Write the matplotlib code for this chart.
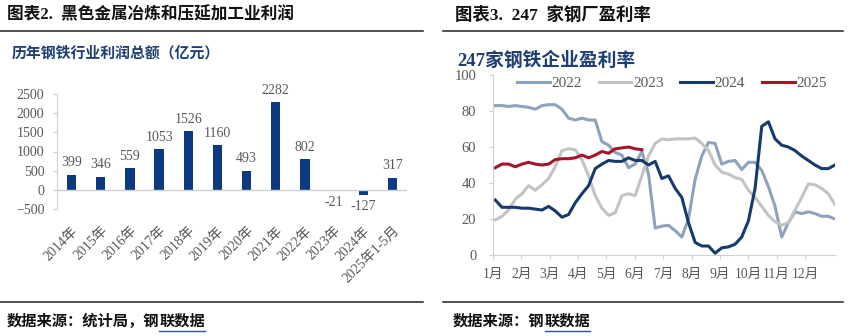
import matplotlib
matplotlib.use("Agg")
import matplotlib.pyplot as plt
from matplotlib.lines import Line2D

plt.rcParams['font.family'] = ['Liberation Serif', 'Noto Sans CJK SC']

# ---- annual profit of ferrous smelting (100M yuan) ----
years = ["2014年", "2015年", "2016年", "2017年", "2018年", "2019年",
         "2020年", "2021年", "2022年", "2023年", "2024年", "2025年1-5月"]
profit = [399, 346, 559, 1053, 1526, 1160, 493, 2282, 802, -21, -127, 317]

# ---- weekly profitability of 247 steel mills (%) ----
months = ["1月", "2月", "3月", "4月", "5月", "6月",
          "7月", "8月", "9月", "10月", "11月", "12月"]
rate_2022 = [83, 83, 82.5, 83, 82.5, 82, 81, 83, 83.5, 83.5, 81, 76, 75, 76, 75,
             75, 63, 61, 57, 55.5, 48.5, 50.5, 57.5, 45, 15, 16, 16.5, 13.5, 10,
             20, 42, 55, 62.5, 62, 50.5, 52, 52.5, 47.5, 51.5, 51.5, 47, 38, 27,
             10, 18, 24, 23, 24, 23, 21.5, 21.5, 20]
rate_2023 = [19.5, 21.5, 25, 31, 34, 38.5, 36, 39, 42.5, 49, 58, 59, 58.5, 53, 44,
             33, 26, 22, 23.5, 33, 34, 33, 44, 55, 62, 64.5, 64, 64.5, 64.5, 64.5,
             65, 62, 58, 50, 46, 45, 43, 42, 36, 32, 27, 22, 18.5, 16.5, 18, 25,
             32, 39.5, 39, 37, 34, 28]
rate_2024 = [30.5, 26.5, 26.5, 26.5, 26, 26, 25.5, 25, 27, 24.5, 21, 22.5, 29, 34,
             38.5, 48, 50.5, 52.5, 52, 52, 54, 52.5, 52.5, 50, 52, 42.5, 44, 37,
             32, 18, 7, 5, 5, 1, 4, 4.5, 6, 10, 19, 37, 71.5, 74, 64.5, 61, 60, 58,
             55, 52.5, 50, 48, 48, 50]
rate_2025 = [48.5, 50.5, 50.5, 49, 50.5, 51.5, 50.5, 50, 50.5, 53, 53.5, 53.5, 54,
             55.5, 54, 55.5, 57.5, 56.5, 59, 59.5, 60, 59, 58.5]

W, H = 853, 336
fig = plt.figure(figsize=(W / 100, H / 100), dpi=100)
fig.patch.set_facecolor("white")

def fx(px):
    return px / W

def fy(py):
    return 1 - py / H

navy = "#0c3a80"
title_blue = "#1f3f73"
gray_txt = "#595959"
axis_gray = "#d0d0d0"

# ---------- section headers and rules ----------
fig.text(fx(7), fy(15), "图表2.  黑色金属冶炼和压延加工业利润", fontsize=12,
         fontweight="bold", color="#111111", va="center", ha="left")
fig.text(fx(455), fy(15), "图表3.  247  家钢厂盈利率", fontsize=12.5,
         fontweight="bold", color="#111111", va="center", ha="left")

for (xa, xb) in [(0, 423), (443, 843)]:
    for yy in (31, 302):
        fig.add_artist(Line2D([fx(xa), fx(xb)], [fy(yy), fy(yy)],
                              color="#222222", lw=1.1))

def source(x0, prefix, linked):
    t = fig.text(fx(x0), fy(321), prefix, fontsize=11, fontweight="bold",
                 color="#111111", va="center", ha="left")
    fig.canvas.draw()
    bb = t.get_window_extent()
    t2 = fig.text(bb.x1 / W, fy(321), linked, fontsize=11, fontweight="bold",
                  color="#111111", va="center", ha="left")
    fig.canvas.draw()
    bb2 = t2.get_window_extent()
    fig.add_artist(Line2D([bb2.x0 / W, bb2.x1 / W], [fy(331), fy(331)],
                          color="#2f5597", lw=1))

source(7, "数据来源：统计局，钢", "联数据")
source(453, "数据来源：钢", "联数据")

# ---------- left: annual profit bars ----------
fig.text(fx(12), fy(53), "历年钢铁行业利润总额（亿元）", fontsize=10.7,
         fontweight="bold", color=title_blue, va="center", ha="left")

ax1 = fig.add_axes([fx(57), fy(209), fx(350), (209 - 94) / H])
xs = range(len(years))
ax1.bar(xs, profit, width=0.32, color=navy)
ax1.set_xlim(-0.5, len(years) - 0.5)
ax1.set_ylim(-500, 2500)
ax1.set_yticks(range(-500, 2501, 500))
ax1.axhline(0, color=axis_gray, lw=1)
for s in ("top", "right", "bottom"):
    ax1.spines[s].set_visible(False)
ax1.spines["left"].set_color(axis_gray)
ax1.tick_params(axis="y", colors=gray_txt, labelsize=10, length=3, color=axis_gray, pad=6)
ax1.set_xticks(list(xs))
ax1.set_xticklabels(years, rotation=45, ha="right", rotation_mode="anchor",
                    color=gray_txt, fontsize=10)
ax1.tick_params(axis="x", length=0, pad=11)
ax1.patch.set_alpha(0)
for i, v in enumerate(profit):
    ax1.annotate(f"{v}", xy=(i, v),
                 xytext=(0, 4 if v >= 0 else -4), textcoords="offset points",
                 ha="center", va="bottom" if v >= 0 else "top",
                 fontsize=10, color=gray_txt)

# ---------- right: weekly profitability lines ----------
fig.text(fx(457), fy(60), "247家钢铁企业盈利率", fontsize=13.5,
         fontweight="bold", color=title_blue, va="center", ha="left")

ax2 = fig.add_axes([fx(493), fy(255), fx(342), (255 - 75) / H])
series = [("2022", rate_2022, "#8fa2bc"), ("2023", rate_2023, "#c3c3c3"),
          ("2024", rate_2024, "#173a6c"), ("2025", rate_2025, "#a3162a")]
for name, vals, col in series:
    ax2.plot(range(len(vals)), vals, color=col, lw=2.2, label=name,
             solid_joinstyle="round")
ax2.set_xlim(-0.35, 51)
ax2.set_ylim(0, 100)
ax2.set_yticks(range(0, 101, 20))
month_pos = [-0.35 + 4.26 * i for i in range(12)]
ax2.set_xticks(month_pos)
ax2.set_xticklabels(months, fontsize=9.8, color=gray_txt)
for s in ("top", "right"):
    ax2.spines[s].set_visible(False)
for s in ("left", "bottom"):
    ax2.spines[s].set_color(axis_gray)
ax2.tick_params(axis="y", colors=gray_txt, labelsize=10.5, length=3, color=axis_gray, pad=9)
ax2.tick_params(axis="x", length=3, color=axis_gray, pad=6)
ax2.patch.set_alpha(0)
ax2.legend(loc="center", bbox_to_anchor=(0.523, 0.955), ncol=4, frameon=False,
           fontsize=11, handlelength=2.15, handletextpad=0.1,
           columnspacing=1.1, labelcolor=gray_txt, borderpad=0)

fig.savefig("out.png", dpi=100, facecolor="white")
